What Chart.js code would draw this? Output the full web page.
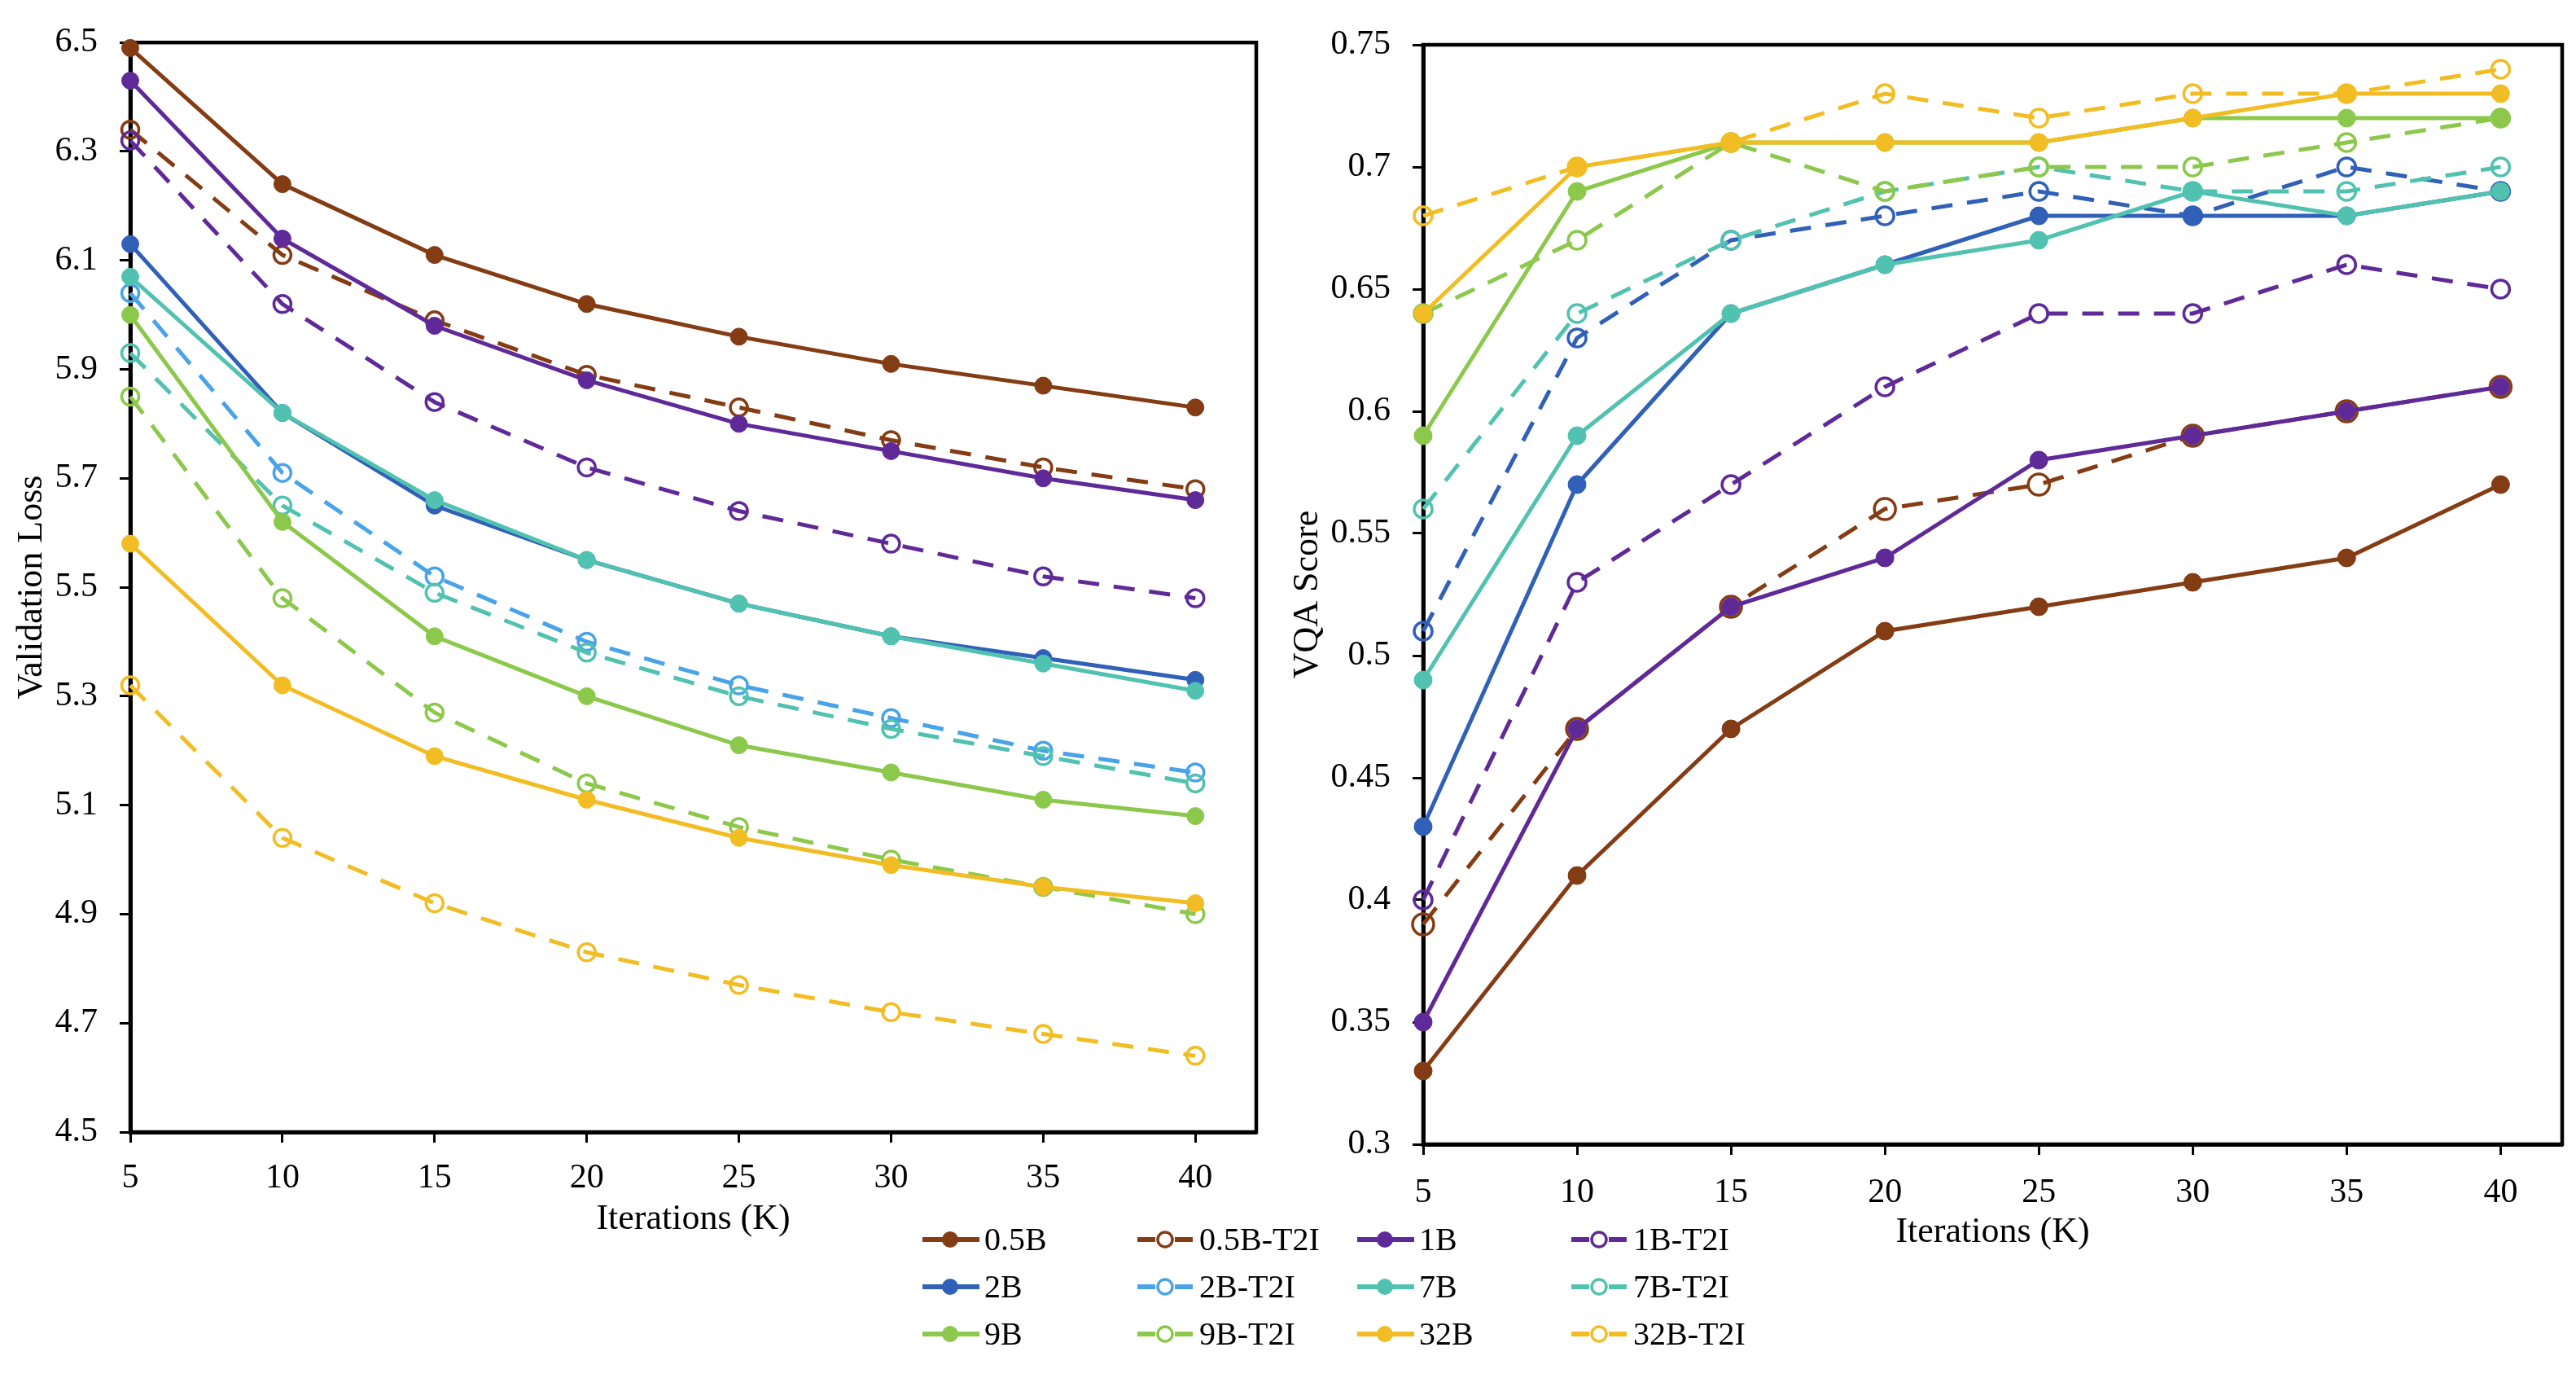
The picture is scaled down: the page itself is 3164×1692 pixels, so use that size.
<!DOCTYPE html>
<html>
<head>
<meta charset="utf-8">
<script src="https://cdn.jsdelivr.net/npm/chart.js@4.4.1/dist/chart.umd.min.js"></script>
<style>
  html, body { margin: 0; padding: 0; background: #fff; }
  body { width: 3164px; height: 1692px; position: relative; overflow: hidden; font-family: "Liberation Serif", "Times New Roman", serif; }
  canvas { position: absolute; top: 0; }
  #lossChart { left: 0; }
  #vqaChart { left: 1560px; }
  #legend { position: absolute; left: 1131px; top: 1493px; display: grid; grid-template-columns: 264px 270px 263px 240px; z-index: 2; }
  .item { display: flex; align-items: center; height: 58px; font-size: 40px; line-height: 1; color: #000; }
  .item svg { margin-right: 6px; }
</style>
</head>
<body>
<canvas id="lossChart" width="1560" height="1540"></canvas>
<canvas id="vqaChart" width="1604" height="1560"></canvas>
<div id="legend"></div>
<script>
// 横軸（K iterations）
const iterations = [5, 10, 15, 20, 25, 30, 35, 40];
const seriesNames = ['0.5B', '0.5B-T2I', '1B', '1B-T2I', '2B', '2B-T2I', '7B', '7B-T2I', '9B', '9B-T2I', '32B', '32B-T2I'];

// 目盛り
const lossTicks = [4.5, 4.7, 4.9, 5.1, 5.3, 5.5, 5.7, 5.9, 6.1, 6.3, 6.5];
const vqaTicks = [0.3, 0.35, 0.4, 0.45, 0.5, 0.55, 0.6, 0.65, 0.7, 0.75];

// Validation Loss
const loss05B = [6.49, 6.24, 6.11, 6.02, 5.96, 5.91, 5.87, 5.83];
const loss05BT2I = [6.34, 6.11, 5.99, 5.89, 5.83, 5.77, 5.72, 5.68];
const loss1B = [6.43, 6.14, 5.98, 5.88, 5.80, 5.75, 5.70, 5.66];
const loss1BT2I = [6.32, 6.02, 5.84, 5.72, 5.64, 5.58, 5.52, 5.48];
const loss2B = [6.13, 5.82, 5.65, 5.55, 5.47, 5.41, 5.37, 5.33];
const loss2BT2I = [6.04, 5.71, 5.52, 5.40, 5.32, 5.26, 5.20, 5.16];
const loss7B = [6.07, 5.82, 5.66, 5.55, 5.47, 5.41, 5.36, 5.31];
const loss7BT2I = [5.93, 5.65, 5.49, 5.38, 5.30, 5.24, 5.19, 5.14];
const loss9B = [6.00, 5.62, 5.41, 5.30, 5.21, 5.16, 5.11, 5.08];
const loss9BT2I = [5.85, 5.48, 5.27, 5.14, 5.06, 5.00, 4.95, 4.90];
const loss32B = [5.58, 5.32, 5.19, 5.11, 5.04, 4.99, 4.95, 4.92];
const loss32BT2I = [5.32, 5.04, 4.92, 4.83, 4.77, 4.72, 4.68, 4.64];

// VQA Score
const vqa05B = [0.33, 0.41, 0.47, 0.51, 0.52, 0.53, 0.54, 0.57];
const vqa05BT2I = [0.39, 0.47, 0.52, 0.56, 0.57, 0.59, 0.60, 0.61];
const vqa1B = [0.35, 0.47, 0.52, 0.54, 0.58, 0.59, 0.60, 0.61];
const vqa1BT2I = [0.40, 0.53, 0.57, 0.61, 0.64, 0.64, 0.66, 0.65];
const vqa2B = [0.43, 0.57, 0.64, 0.66, 0.68, 0.68, 0.68, 0.69];
const vqa2BT2I = [0.51, 0.63, 0.67, 0.68, 0.69, 0.68, 0.70, 0.69];
const vqa7B = [0.49, 0.59, 0.64, 0.66, 0.67, 0.69, 0.68, 0.69];
const vqa7BT2I = [0.56, 0.64, 0.67, 0.69, 0.70, 0.69, 0.69, 0.70];
const vqa9B = [0.59, 0.69, 0.71, 0.71, 0.71, 0.72, 0.72, 0.72];
const vqa9BT2I = [0.64, 0.67, 0.71, 0.69, 0.70, 0.70, 0.71, 0.72];
const vqa32B = [0.64, 0.70, 0.71, 0.71, 0.71, 0.72, 0.73, 0.73];
const vqa32BT2I = [0.68, 0.70, 0.71, 0.73, 0.72, 0.73, 0.73, 0.74];

const lossSeries = [loss05B, loss05BT2I, loss1B, loss1BT2I, loss2B, loss2BT2I, loss7B, loss7BT2I, loss9B, loss9BT2I, loss32B, loss32BT2I];
const vqaSeries = [vqa05B, vqa05BT2I, vqa1B, vqa1BT2I, vqa2B, vqa2BT2I, vqa7B, vqa7BT2I, vqa9B, vqa9BT2I, vqa32B, vqa32BT2I];

// 色
const brown = '#843c14', purple = '#5f2a98', blue = '#3060b8', lightBlue = '#4aa3e8';
const teal = '#52c2b0', green = '#8cc84b', yellow = '#f2bd24';
const lossColors = [brown, brown, purple, purple, blue, lightBlue, teal, teal, green, green, yellow, yellow];
const vqaColors = [brown, brown, purple, purple, blue, blue, teal, teal, green, green, yellow, yellow];

Chart.defaults.font.family = '"Liberation Serif", "Times New Roman", serif';
Chart.defaults.color = '#000';

// 枠線（上と右も）
const framePlugin = {
    id: 'frame',
    beforeDatasetsDraw(chart) {
        const {ctx, chartArea: a} = chart;
        ctx.save();
        ctx.strokeStyle = '#000';
        ctx.lineWidth = 4.5;
        ctx.strokeRect(a.left, a.top, a.right - a.left, a.bottom - a.top);
        ctx.restore();
    }
};

function buildDatasets(series, colors, radii) {
    return series.map((values, i) => {
        const t2i = seriesNames[i].endsWith('T2I');
        return {
            label: seriesNames[i],
            data: values.map((y, j) => ({x: iterations[j], y: y})),
            borderColor: colors[i],
            backgroundColor: colors[i],
            borderWidth: 5,
            borderDash: t2i ? [26, 18] : [],
            pointRadius: radii[i],
            pointHoverRadius: radii[i],
            pointBorderWidth: t2i ? 3.5 : 1,
            pointBackgroundColor: t2i ? 'rgba(0,0,0,0)' : colors[i],
            pointBorderColor: colors[i],
            tension: 0,
            clip: false,
            order: -i
        };
    });
}

function makeChart(id, datasets, yTicks, yTitle, box) {
    const tickGrid = {drawOnChartArea: false, drawTicks: true, tickLength: 13, tickColor: '#000', tickWidth: 3};
    new Chart(document.getElementById(id), {
        type: 'line',
        data: {datasets: datasets},
        plugins: [framePlugin],
        options: {
            responsive: false,
            animation: false,
            devicePixelRatio: 1,
            layout: {padding: {top: box.top, right: box.right, left: 0, bottom: 0}},
            plugins: {legend: {display: false}, tooltip: {enabled: false}},
            scales: {
                x: {
                    type: 'linear',
                    min: 5,
                    max: 42,
                    afterBuildTicks: s => { s.ticks = iterations.map(v => ({value: v})); },
                    afterFit: s => { s.height = box.xHeight; },
                    ticks: {font: {size: 42}, color: '#000', padding: box.xPad, maxRotation: 0, autoSkip: false, callback: v => String(v)},
                    grid: tickGrid,
                    border: {display: true, color: '#000', width: 5},
                    title: {display: true, text: 'Iterations (K)', font: {size: 44}, color: '#000', padding: {top: 0, bottom: box.xTitlePad}}
                },
                y: {
                    type: 'linear',
                    min: yTicks[0],
                    max: yTicks[yTicks.length - 1],
                    afterBuildTicks: s => { s.ticks = yTicks.map(v => ({value: v})); },
                    afterFit: s => { s.width = box.yWidth; },
                    ticks: {font: {size: 42}, color: '#000', padding: 27, autoSkip: false, callback: v => String(v)},
                    grid: tickGrid,
                    border: {display: true, color: '#000', width: 5},
                    title: {display: true, text: yTitle, font: {size: 44}, color: '#000', padding: {top: box.yTitlePad, bottom: 0}}
                }
            }
        }
    });
}

const lossRadii = seriesNames.map(() => 10.5);
const vqaRadii = seriesNames.map((n, i) => i === 1 ? 13 : 11);

makeChart('lossChart', buildDatasets(lossSeries, lossColors, lossRadii), lossTicks, 'Validation Loss',
    {top: 45, right: 17, xHeight: 150, xPad: 19, xTitlePad: 16, yWidth: 160, yTitlePad: 13});
makeChart('vqaChart', buildDatasets(vqaSeries, vqaColors, vqaRadii), vqaTicks, 'VQA Score',
    {top: 55, right: 17, xHeight: 155, xPad: 22, xTitlePad: 20, yWidth: 188, yTitlePad: 20});

// 凡例（両グラフ共通）
const legend = document.getElementById('legend');
seriesNames.forEach((name, i) => {
    const c = lossColors[i];
    const t2i = name.endsWith('T2I');
    const mark = t2i
        ? `<line x1="2" y1="15" x2="24" y2="15" stroke="${c}" stroke-width="6"/><line x1="48" y1="15" x2="70" y2="15" stroke="${c}" stroke-width="6"/><circle cx="36" cy="15" r="9" fill="none" stroke="${c}" stroke-width="3.5"/>`
        : `<line x1="2" y1="15" x2="72" y2="15" stroke="${c}" stroke-width="6"/><circle cx="36" cy="15" r="10" fill="${c}"/>`;
    const item = document.createElement('div');
    item.className = 'item';
    item.innerHTML = `<svg width="72" height="30">${mark}</svg><span>${name}</span>`;
    legend.appendChild(item);
});
</script>
</body>
</html>
